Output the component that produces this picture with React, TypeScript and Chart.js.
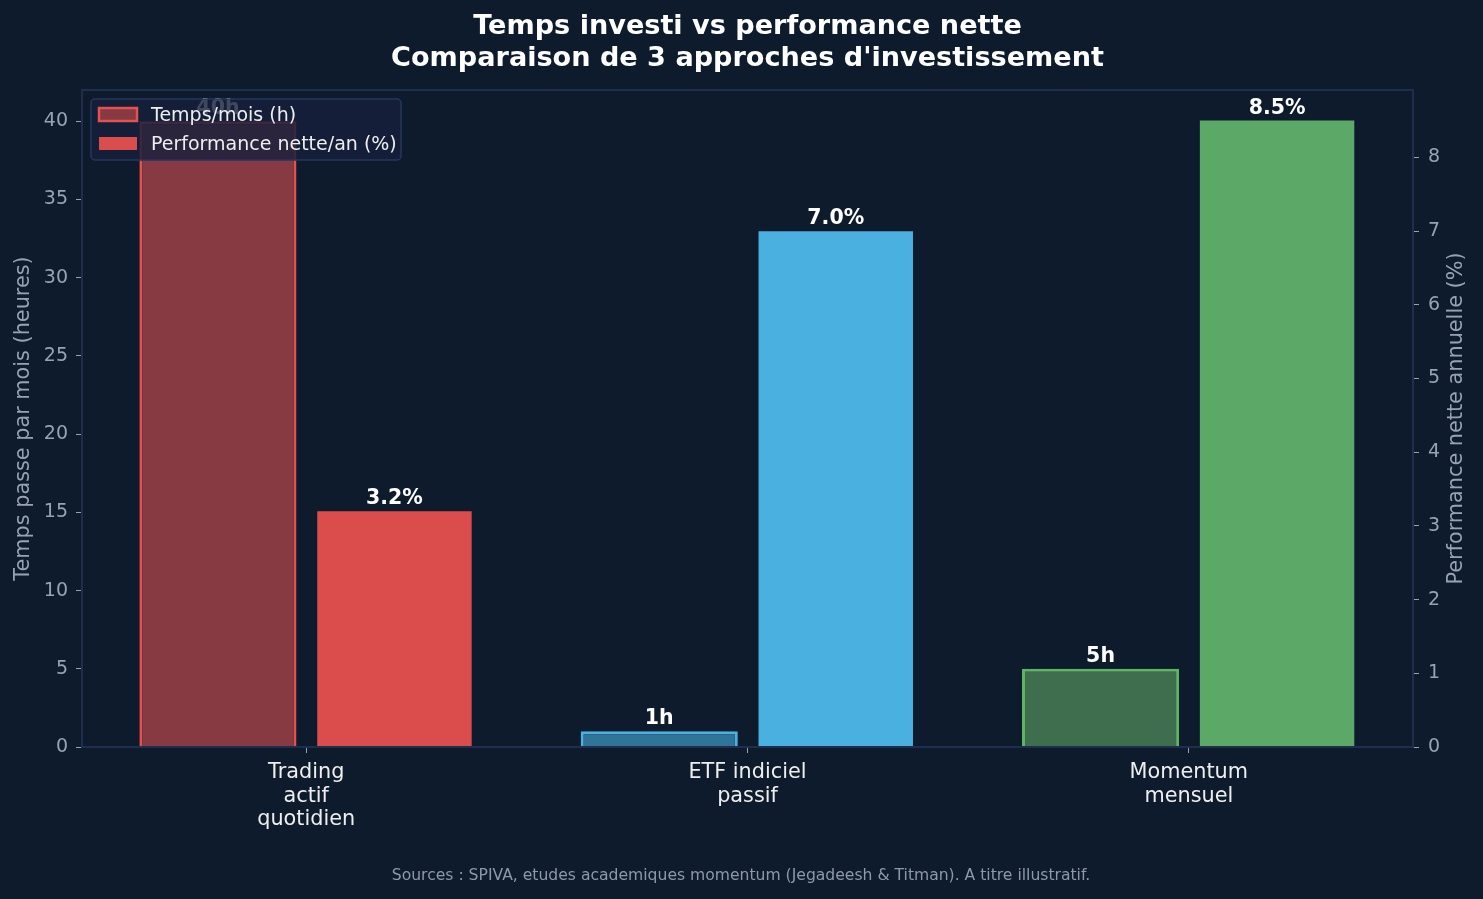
import React, { useEffect, useRef } from "react";
import { Chart, registerables } from "chart.js";

Chart.register(...registerables);

const categories: string[][] = [["Trading", "actif", "quotidien"], ["ETF indiciel", "passif"], ["Momentum", "mensuel"]];
const timeValues: number[] = [40, 1, 5];
const perfValues: number[] = [3.2, 7.0, 8.5];
const timeLabels: string[] = ["40h", "1h", "5h"];
const perfLabels: string[] = ["3.2%", "7.0%", "8.5%"];
const leftTicks: number[] = [0, 5, 10, 15, 20, 25, 30, 35, 40];
const rightTicks: number[] = [0, 1, 2, 3, 4, 5, 6, 7, 8];
const titleLines: string[] = ["Temps investi vs performance nette", "Comparaison de 3 approches d'investissement"];

const BG = "#0d1b2d";
const SPINE = "#1f2e4f";
const TICK = "#97a3b3";
const FONT = "'DejaVu Sans', sans-serif";
const timeFill = ["#873a42", "#2f7599", "#3e6e4e"];
const timeBorder = ["#e4514f", "#4ab2e2", "#5db562"];
const perfFill = ["#db4d4d", "#49b0e0", "#5ca866"];

export default function App() {
  const ref = useRef<HTMLCanvasElement | null>(null);
  useEffect(() => {
    document.body.style.margin = "0";
    document.body.style.background = BG;
    const canvas = ref.current!;
    const overlay = {
      id: "overlay",
      afterDatasetsDraw(chart: any) {
        const ctx = chart.ctx;
        ctx.save();
        ctx.fillStyle = "#ffffff";
        ctx.font = `bold 20.5px ${FONT}`;
        ctx.textAlign = "center";
        ctx.textBaseline = "bottom";
        const labs = [timeLabels, perfLabels];
        [0, 1].forEach((di) => {
          const meta = chart.getDatasetMeta(di);
          meta.data.forEach((bar: any, i: number) => {
            ctx.fillText(labs[di][i], bar.x, bar.y - 2);
          });
        });
        ctx.restore();
      },
      afterDraw(chart: any) {
        const ctx = chart.ctx;
        const a = chart.chartArea;
        const cx = (a.left + a.right) / 2;
        ctx.save();
        // title
        ctx.fillStyle = "#ffffff";
        ctx.font = `bold 27.1px ${FONT}`;
        ctx.textAlign = "center";
        ctx.textBaseline = "alphabetic";
        ctx.fillText(titleLines[0], cx, 34);
        ctx.fillText(titleLines[1], cx, 66);
        // frame
        ctx.strokeStyle = SPINE;
        ctx.lineWidth = 2;
        ctx.strokeRect(a.left, a.top, a.right - a.left, a.bottom - a.top);
        // axis titles
        ctx.fillStyle = TICK;
        ctx.font = `20.8px ${FONT}`;
        ctx.textAlign = "center";
        ctx.textBaseline = "middle";
        ctx.save();
        ctx.translate(24, (a.top + a.bottom) / 2);
        ctx.rotate(-Math.PI / 2);
        ctx.fillText("Temps passe par mois (heures)", 0, 0);
        ctx.restore();
        ctx.save();
        ctx.translate(1457, (a.top + a.bottom) / 2);
        ctx.rotate(-Math.PI / 2);
        ctx.fillText("Performance nette annuelle (%)", 0, 0);
        ctx.restore();
        // footer
        ctx.fillStyle = "#8d99aa";
        ctx.font = `15.6px ${FONT}`;
        ctx.fillText("Sources : SPIVA, etudes academiques momentum (Jegadeesh & Titman). A titre illustratif.", 741, 876);
        // legend
        const lx = a.left + 9, ly = a.top + 9, lw = 310, lh = 61;
        ctx.beginPath();
        ctx.roundRect(lx, ly, lw, lh, 4);
        ctx.fillStyle = "rgba(22,32,58,0.82)";
        ctx.fill();
        ctx.strokeStyle = "#26375c";
        ctx.lineWidth = 1.5;
        ctx.stroke();
        ctx.fillStyle = timeFill[0];
        ctx.fillRect(lx + 8, ly + 9, 38, 13);
        ctx.strokeStyle = timeBorder[0];
        ctx.lineWidth = 2.5;
        ctx.strokeRect(lx + 8, ly + 9, 38, 13);
        ctx.fillStyle = perfFill[0];
        ctx.fillRect(lx + 8, ly + 38, 38, 13);
        ctx.fillStyle = "#eeeeee";
        ctx.font = `19px ${FONT}`;
        ctx.textAlign = "left";
        ctx.fillText("Temps/mois (h)", lx + 60, ly + 17);
        ctx.fillText("Performance nette/an (%)", lx + 60, ly + 46);
        ctx.restore();
      },
    };
    const chart = new Chart(canvas, {
      type: "bar",
      data: {
        datasets: [
          {
            label: "Temps/mois (h)",
            data: timeValues.map((v, i) => ({ x: i, y: v })),
            yAxisID: "y",
            backgroundColor: timeFill,
            borderColor: timeBorder,
            borderWidth: 3,
            borderSkipped: "bottom",
            categoryPercentage: 0.8,
            barPercentage: 0.89,
          },
          {
            label: "Performance nette/an (%)",
            data: perfValues.map((v, i) => ({ x: i, y: v })),
            yAxisID: "y1",
            backgroundColor: perfFill,
            borderWidth: 0,
            categoryPercentage: 0.8,
            barPercentage: 0.875,
          },
        ],
      },
      options: {
        animation: false,
        responsive: false,
        maintainAspectRatio: false,
        layout: { padding: { top: 90, left: 0, right: 0, bottom: 0 } },
        plugins: {
          legend: { display: false },
          tooltip: { enabled: false },
          title: { display: false },
        },
        scales: {
          x: {
            type: "linear",
            min: -0.508,
            max: 2.508,
            offset: false,
            border: { display: false },
            grid: { display: true, offset: false, drawOnChartArea: false, drawTicks: true, tickLength: 6, color: TICK },
            ticks: {
              color: "#eeeeee",
              font: { family: FONT, size: 20.8, lineHeight: 1.13 },
              padding: 8,
              maxRotation: 0,
              autoSkip: false,
              callback: (v: any) => categories[Math.round(Number(v))] ?? "",
            },
            afterBuildTicks: (s: any) => { s.ticks = categories.map((_, i) => ({ value: i })); },
            afterFit: (s: any) => { s.height = 152; },
          },
          y: {
            position: "left",
            min: 0,
            max: 42,
            border: { display: false },
            grid: { display: true, drawOnChartArea: false, drawTicks: true, tickLength: 6, color: TICK },
            ticks: { color: TICK, font: { family: FONT, size: 19 }, padding: 8 },
            afterBuildTicks: (s: any) => { s.ticks = leftTicks.map((v) => ({ value: v })); },
            afterFit: (s: any) => { s.width = 82; },
          },
          y1: {
            position: "right",
            min: 0,
            max: 8.915,
            border: { display: false },
            grid: { display: true, drawOnChartArea: false, drawTicks: true, tickLength: 6, color: TICK },
            ticks: { color: TICK, font: { family: FONT, size: 19 }, padding: 9 },
            afterBuildTicks: (s: any) => { s.ticks = rightTicks.map((v) => ({ value: v })); },
            afterFit: (s: any) => { s.width = 70; },
          },
        },
      },
      plugins: [overlay],
    } as any);
    return () => chart.destroy();
  }, []);
  return (
    <div style={{ width: 1483, height: 899, background: BG }}>
      <canvas ref={ref} width={1483} height={899} style={{ display: "block", width: 1483, height: 899 }} />
    </div>
  );
}
